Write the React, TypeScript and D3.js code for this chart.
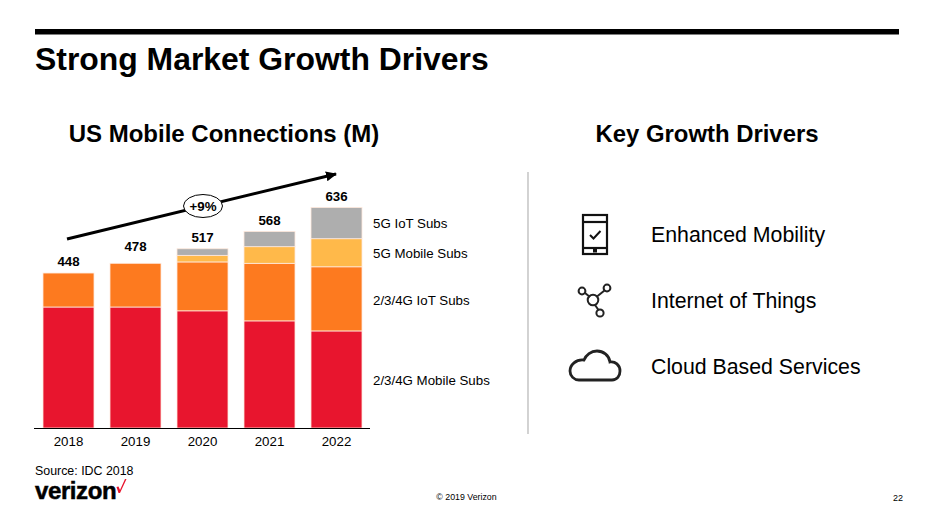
import React from "react";
import * as d3 from "d3";

const years = ["2018", "2019", "2020", "2021", "2022"];
const seriesKeys = ["mobile4g", "iot4g", "mobile5g", "iot5g"];
const mobile4g = [349, 349, 338, 309, 280];
const iot4g = [98, 126, 141, 166, 185];
const mobile5g = [0, 0, 19, 48, 81];
const iot5g = [0, 0, 19, 44, 90];
const totals = [448, 478, 517, 568, 636];
const seriesColors = ["#e8152e", "#fd7a1f", "#ffb94a", "#aeaeae"];
const seriesLabels = ["2/3/4G Mobile Subs", "2/3/4G IoT Subs", "5G Mobile Subs", "5G IoT Subs"];
const labelY = [380, 300, 253, 223];
const drivers = ["Enhanced Mobility", "Internet of Things", "Cloud Based Services"];
const driverY = [234, 300, 366];
// the labels don't sit at a constant gap above the bars in the slide
const totalLift = [7, 12, 7, 6, 7];

const font = "'Liberation Sans', Arial, sans-serif";
const baseline = 428;

const x = d3.scaleBand<string>().domain(years).range([43, 362]).paddingInner(16 / 67).paddingOuter(0);
const y = d3.scaleLinear().domain([0, 636]).range([baseline, baseline - 220.5]);

const rows = years.map((year, i) => ({
  year,
  mobile4g: mobile4g[i],
  iot4g: iot4g[i],
  mobile5g: mobile5g[i],
  iot5g: iot5g[i],
}));
const stacked = d3.stack<any>().keys(seriesKeys)(rows);

export default function App() {
  return (
    <svg
      width={930}
      height={519}
      viewBox="0 0 930 519"
      style={{ position: "absolute", left: 0, top: 0, background: "#fff" }}
      fontFamily={font}
    >
      <defs>
        <marker id="arrowHead" markerWidth="14" markerHeight="12" refX="10" refY="5" orient="auto" markerUnits="userSpaceOnUse">
          <path d="M0,0 L11,5 L0,10 Z" fill="#000" />
        </marker>
      </defs>

      {/* header */}
      <rect x={35} y={29} width={864} height={5.5} fill="#000" />
      <text x={35} y={70} fontSize={31.9} fontWeight="bold">Strong Market Growth Drivers</text>
      <text x={224} y={142} fontSize={24} fontWeight="bold" textAnchor="middle">US Mobile Connections (M)</text>
      <text x={707} y={142} fontSize={23.9} fontWeight="bold" textAnchor="middle">Key Growth Drivers</text>

      {/* stacked bars */}
      {stacked.map((layer, s) => (
        <g key={layer.key} fill={seriesColors[s]}>
          {layer.map((d, i) =>
            d[1] - d[0] > 0 ? (
              <rect
                key={years[i]}
                x={x(years[i])}
                y={y(d[1])}
                width={x.bandwidth()}
                height={y(d[0]) - y(d[1])}
                stroke="#ffe9dc"
                strokeWidth={0.8}
              />
            ) : null
          )}
        </g>
      ))}
      <line x1={34} x2={370} y1={baseline + 0.5} y2={baseline + 0.5} stroke="#000" strokeWidth={1} />

      {years.map((year, i) => (
        <g key={year} textAnchor="middle">
          <text x={x(year)! + x.bandwidth() / 2} y={y(d3.sum(stacked, (l) => l[i][1] - l[i][0])) - totalLift[i]} fontSize={13.3} fontWeight="bold">{totals[i]}</text>
          <text x={x(year)! + x.bandwidth() / 2} y={446} fontSize={13.3}>{year}</text>
        </g>
      ))}

      {seriesLabels.map((label, i) => (
        <text key={label} x={373} y={labelY[i] + 4.5} fontSize={13.3}>{label}</text>
      ))}

      {/* CAGR arrow */}
      <line x1={67} y1={239} x2={336} y2={174} stroke="#000" strokeWidth={3} markerEnd="url(#arrowHead)" />
      <ellipse cx={203} cy={206} rx={19.5} ry={11.5} fill="#fff" stroke="#000" strokeWidth={1} />
      <text x={203} y={210.5} fontSize={13.3} fontWeight="bold" textAnchor="middle">+9%</text>

      <line x1={528} x2={528} y1={172} y2={434} stroke="#b5b5b5" strokeWidth={1.2} />

      {/* phone icon */}
      <g fill="none" stroke="#111" strokeWidth={2.2}>
        <rect x={583} y={215} width={24} height={39} />
        <line x1={583} x2={607} y1={222} y2={222} />
        <line x1={583} x2={607} y1={248} y2={248} />
        <path d="M590,235 L593.5,238.5 L600.5,231" strokeWidth={2} />
      </g>
      <rect x={593} y={249} width={4} height={3.5} fill="#111" />

      {/* network icon */}
      <g fill="none" stroke="#222" strokeWidth={2}>
        <line x1={585} y1={293} x2={590} y2={297} />
        <line x1={604.5} y1={290.5} x2={597} y2={296.5} />
        <line x1={595} y1={305} x2={598.5} y2={310} />
        <circle cx={593} cy={300} r={5.3} />
        <circle cx={582} cy={291} r={3.4} />
        <circle cx={607} cy={288} r={3.4} />
        <circle cx={600} cy={313} r={3.6} />
      </g>

      {/* cloud icon */}
      <path
        d="M579,380 H612 C617,380 620,376 620,371 C620,365 615,361 610,362 C609,355 603,351 597,351 C591,351 586,355 584,360 C576,359 570,365 570,371 C570,376 574,380 579,380 Z"
        fill="none"
        stroke="#222"
        strokeWidth={2.8}
      />

      {drivers.map((driver, i) => (
        <text key={driver} x={651} y={driverY[i] + 7.5} fontSize={21.3}>{driver}</text>
      ))}

      {/* footer */}
      <text x={35} y={475} fontSize={12.4}>Source: IDC 2018</text>
      <text x={35} y={499} fontSize={24} fontWeight="bold" letterSpacing={-0.4} stroke="#000" strokeWidth={0.5}>verizon</text>
      <path d="M116.5,487 L118.5,486.5 L120,490 L125,479 L126.5,479 L120,493 L118.5,493 Z" fill="#e8152e" />
      <text x={466.5} y={500} fontSize={8.8} textAnchor="middle">© 2019 Verizon</text>
      <text x={898} y={501} fontSize={9} textAnchor="middle">22</text>
    </svg>
  );
}
